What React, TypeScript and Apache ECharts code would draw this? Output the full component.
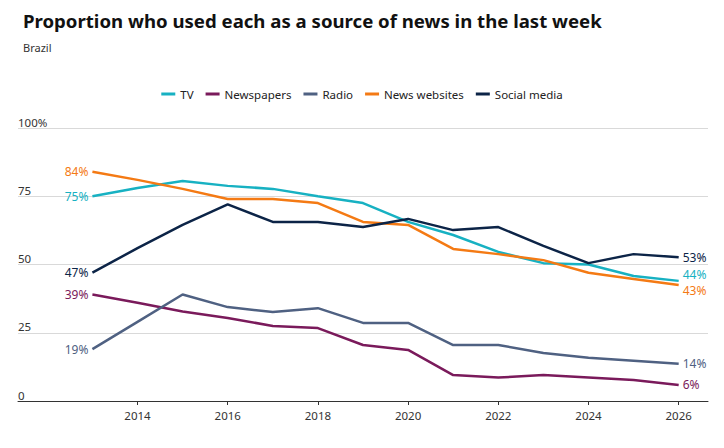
import React, { useEffect, useRef } from "react";
import * as echarts from "echarts";

const years = [2013, 2014, 2015, 2016, 2017, 2018, 2019, 2020, 2021, 2022, 2023, 2024, 2025, 2026];
const tv = [75, 78, 80.6, 78.8, 77.7, 75, 72.5, 65.6, 60.8, 54.6, 50.5, 50, 45.8, 44];
const newspapers = [39, 36, 32.8, 30.4, 27.5, 26.7, 20.5, 18.7, 9.5, 8.6, 9.5, 8.6, 7.7, 5.9];
const radio = [19, 29, 39, 34.4, 32.6, 34, 28.6, 28.6, 20.5, 20.5, 17.6, 15.8, 14.7, 13.6];
const newsWebsites = [84, 81, 77.7, 74, 74, 72.5, 65.6, 64.5, 55.7, 53.8, 51.6, 47, 44.7, 42.5];
const socialMedia = [47, 56, 64.5, 72, 65.6, 65.6, 63.7, 66.7, 62.6, 63.7, 56.8, 50.5, 53.8, 52.7];
const startLabels = ["75%", "39%", "19%", "84%", "47%"];
const endLabels = ["44%", "6%", "14%", "43%", "53%"];
const xTicks = [2014, 2016, 2018, 2020, 2022, 2024, 2026];

const FONT = "Noto Sans, sans-serif";

const App: React.FC = () => {
  const chartRef = useRef<HTMLDivElement>(null);

  useEffect(() => {
    if (!chartRef.current) return;
    const chart = echarts.init(chartRef.current, undefined, { renderer: "svg" });

    const defs = [
      { name: "TV", data: tv, color: "#17b1c2", endOffset: [0, -6] },
      { name: "Newspapers", data: newspapers, color: "#7a1a5b", endOffset: [0, 0] },
      { name: "Radio", data: radio, color: "#4f6182", endOffset: [0, 0] },
      { name: "News websites", data: newsWebsites, color: "#f47a14", endOffset: [0, 6] },
      { name: "Social media", data: socialMedia, color: "#0c2447", endOffset: [0, 0] },
    ];

    const series = defs.map((d, si) => ({
      name: d.name,
      type: "line",
      symbol: "circle",
      symbolSize: 0,
      showAllSymbol: true,
      lineStyle: { width: 2.5, color: d.color },
      itemStyle: { color: d.color },
      data: d.data.map((v, i) => {
        const item: any = { value: [years[i], v] };
        if (i === 0 || i === d.data.length - 1) {
          item.label = {
            show: true,
            position: i === 0 ? "left" : "right",
            offset: i === 0 ? [0, 0] : d.endOffset,
            distance: 4,
            formatter: i === 0 ? startLabels[si] : endLabels[si],
            color: d.color,
            fontSize: 12,
            fontFamily: FONT,
          };
        }
        return item;
      }),
    }));

    chart.setOption({
      animation: false,
      textStyle: { fontFamily: FONT },
      title: [
        {
          text: "Proportion who used each as a source of news in the last week",
          left: 10,
          top: -2,
          textStyle: { fontSize: 18.6, fontWeight: "bold", color: "#111", fontFamily: FONT },
        },
        {
          text: "Brazil",
          left: 10,
          top: 29,
          textStyle: { fontSize: 11, fontWeight: "normal", color: "#333", fontFamily: FONT },
        },
      ],
      legend: {
        top: 75,
        left: "center",
        itemWidth: 14,
        itemHeight: 3,
        itemGap: 12,
        icon: "rect",
        textStyle: { fontSize: 11.5, color: "#222", fontFamily: FONT },
        data: defs.map((d) => d.name),
      },
      grid: { left: 10, right: 8, top: 120, bottom: 39 },
      xAxis: {
        type: "value",
        min: 2011.35,
        max: 2026.65,
        axisLine: { show: true, lineStyle: { color: "#333" } },
        axisTick: { show: true, customValues: xTicks, length: 4, lineStyle: { color: "#333" } },
        splitLine: { show: false },
        axisLabel: {
          customValues: xTicks,
          formatter: (v: number) => String(v),
          color: "#333",
          fontSize: 11.5,
          margin: 8,
        },
      },
      yAxis: {
        type: "value",
        min: 0,
        max: 100,
        interval: 25,
        axisLine: { show: false },
        axisTick: { show: false },
        splitLine: { lineStyle: { color: "#d9d9d9" } },
        axisLabel: {
          inside: true,
          verticalAlign: "bottom",
          margin: 0,
          color: "#333",
          fontSize: 11.5,
          formatter: (v: number) => (v === 100 ? "100%" : String(v)),
        },
      },
      series,
    });

    return () => chart.dispose();
  }, []);

  return <div ref={chartRef} style={{ width: 708, height: 432 }} />;
};

export default App;
